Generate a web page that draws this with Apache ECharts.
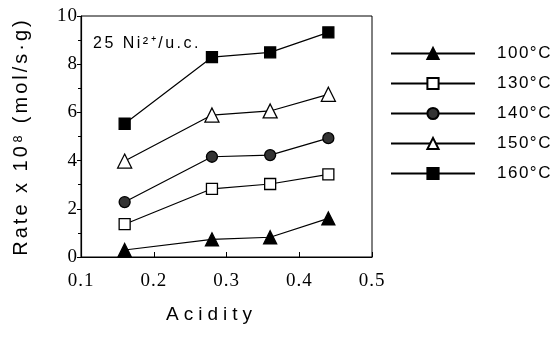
<!DOCTYPE html>
<html>
<head>
<meta charset="utf-8">
<script src="https://cdn.jsdelivr.net/npm/echarts@6/dist/echarts.min.js"></script>
<style>
  html, body { margin: 0; padding: 0; background: #fff; }
  #chart { width: 556px; height: 340px; }
</style>
</head>
<body>
<div id="chart"></div>
<script>
const acidity = [0.16, 0.28, 0.36, 0.44]
const temps = ["100°C", "130°C", "140°C", "150°C", "160°C"]
const rate100 = [0.29, 0.73, 0.82, 1.60]
const rate130 = [1.36, 2.83, 3.03, 3.43]
const rate140 = [2.28, 4.16, 4.23, 4.93]
const rate150 = [3.98, 5.89, 6.06, 6.75]
const rate160 = [5.53, 8.29, 8.49, 9.32]

const sans = "Arial"
const serif = "Times"

// the scanned figure spreads its labels out; canvas letterSpacing by font
const spacing = {
  "20px Arial": "3px",
  "19px Arial": "5px",
  "17px Arial": "1.5px",
  "16px Arial": "2.5px",
  "19px Times": "1px",
}
const fillText = CanvasRenderingContext2D.prototype.fillText
CanvasRenderingContext2D.prototype.fillText = function (t, x, y, w) {
  const m = /(\d+px)\s+"?(\w+)/.exec(this.font)
  this.letterSpacing = (m && spacing[m[1] + " " + m[2]]) || "0px"
  return w === undefined ? fillText.call(this, t, x, y) : fillText.call(this, t, x, y, w)
}

const pairs = (ys) => acidity.map((x, i) => [x, ys[i]])

const mk = (name, ys, symbol, size, fill) => ({
  name: name,
  type: "line",
  data: pairs(ys),
  symbol: symbol,
  symbolSize: size,
  showAllSymbol: true,
  lineStyle: { color: "#000", width: 1.2 },
  itemStyle: { color: fill, borderColor: "#000", borderWidth: 1.3 },
  emphasis: { disabled: true },
  z: 3,
})

const chart = echarts.init(document.getElementById("chart"))

const option = {
  animation: false,
  backgroundColor: "#fff",
  grid: {
    left: 81,
    right: 184,
    top: 16,
    bottom: 83,
    show: true,
    borderColor: "#000",
    borderWidth: 1,
  },
  legend: {
    orient: "vertical",
    left: 385,
    top: 40,
    itemWidth: 84,
    itemHeight: 14,
    itemGap: 13,
    selectedMode: false,
    data: temps,
    textStyle: {
      fontFamily: sans,
      fontSize: 17,
      color: "#000",
      padding: [0, 0, 0, 17],
    },
  },
  graphic: [
    {
      type: "text",
      left: 93,
      top: 36,
      style: {
        text: "25 Ni²⁺/u.c.",
        font: "16px " + sans,
        fill: "#000",
      },
    },
  ],
  xAxis: {
    type: "value",
    min: 0.1,
    max: 0.5,
    interval: 0.1,
    name: "Acidity",
    nameLocation: "middle",
    nameGap: 48,
    nameTextStyle: {
      fontFamily: sans,
      fontSize: 19,
      color: "#000",
      padding: [0, 30, 0, 0],
    },
    axisLine: { lineStyle: { color: "#000", width: 1.2 } },
    axisTick: { inside: true, length: 5, lineStyle: { color: "#000" } },
    axisLabel: {
      margin: 15,
      fontFamily: serif,
      fontSize: 19,
      color: "#000",
      formatter: (v) => v.toFixed(1),
    },
    splitLine: { show: false },
  },
  yAxis: {
    type: "value",
    min: 0,
    max: 10,
    interval: 2,
    name: "Rate x 10⁸ (mol/s·g)",
    nameLocation: "middle",
    nameGap: 50,
    nameTextStyle: {
      fontFamily: sans,
      fontSize: 20,
      color: "#000",
    },
    axisLine: { lineStyle: { color: "#000", width: 1.2 } },
    axisTick: { inside: false, length: 4, lineStyle: { color: "#000" } },
    minorTick: { show: true, splitNumber: 2, length: 3, lineStyle: { color: "#000" } },
    axisLabel: {
      margin: 3,
      fontFamily: serif,
      fontSize: 19,
      color: "#000",
    },
    splitLine: { show: false },
  },
  series: [
    mk(temps[0], rate100, "triangle", 13, "#000"),
    mk(temps[1], rate130, "rect", 11, "#fff"),
    mk(temps[2], rate140, "circle", 11, "#333"),
    mk(temps[3], rate150, "triangle", 14, "#fff"),
    mk(temps[4], rate160, "rect", 11, "#000"),
  ],
}

chart.setOption(option)
</script>
</body>
</html>
